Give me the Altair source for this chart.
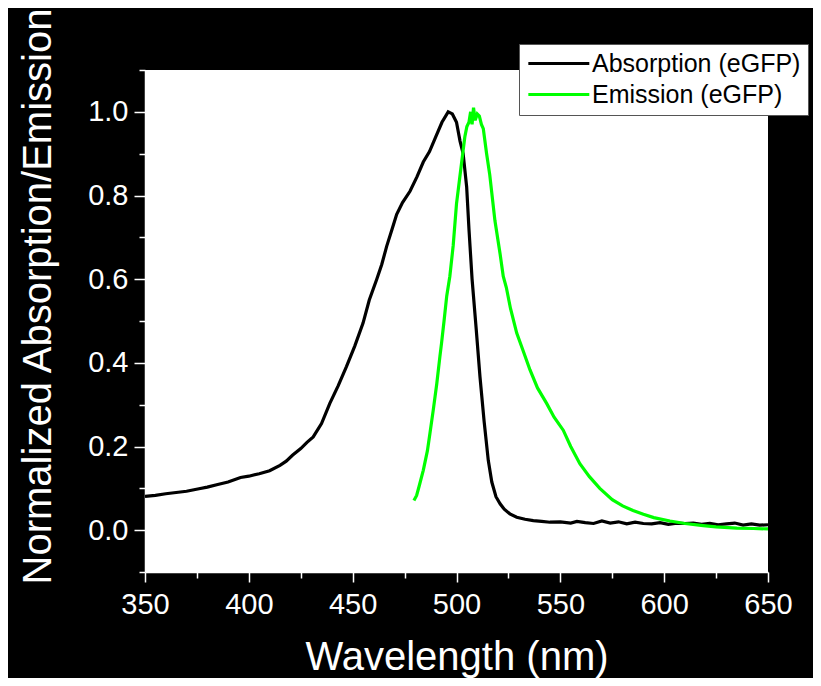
import altair as alt
import pandas as pd

# Absorption (eGFP) - wavelength (nm) and normalized value
abs_nm = [350, 355, 360, 365, 370, 376, 380, 385, 390, 396, 400, 405, 410, 415, 418,
          421, 425, 428, 431, 435, 439, 443, 447, 451, 455, 458, 461.6, 464, 466.4,
          469, 471.2, 474, 477.6, 481, 484, 487, 490, 493, 496, 498, 500, 501.7,
          503.2, 504.9, 506, 507.5, 509.5, 511.3, 513.3, 515.3, 517, 519, 521, 523,
          525.7, 529, 533, 537, 541, 545, 550, 555, 558, 562, 566, 570, 574, 578,
          582, 586, 590, 594, 598, 602, 606, 610, 614, 618, 622, 626, 630, 634, 638,
          642, 646, 650]
abs_val = [0.081, 0.083, 0.087, 0.090, 0.093, 0.099, 0.103, 0.109, 0.115, 0.126, 0.129,
           0.135, 0.142, 0.155, 0.165, 0.179, 0.195, 0.210, 0.223, 0.255, 0.303, 0.345,
           0.391, 0.440, 0.495, 0.550, 0.600, 0.635, 0.679, 0.720, 0.755, 0.783, 0.810,
           0.845, 0.880, 0.905, 0.940, 0.975, 1.000, 0.995, 0.975, 0.930, 0.900, 0.820,
           0.720, 0.600, 0.480, 0.367, 0.260, 0.167, 0.115, 0.080, 0.063, 0.050, 0.039,
           0.031, 0.026, 0.023, 0.021, 0.019, 0.020, 0.017, 0.021, 0.018, 0.016, 0.022,
           0.017, 0.020, 0.015, 0.019, 0.016, 0.015, 0.018, 0.014, 0.017, 0.016, 0.017,
           0.014, 0.016, 0.013, 0.015, 0.017, 0.012, 0.015, 0.012, 0.013]

# Emission (eGFP)
em_nm = [479.5, 480.8, 482, 484, 486, 487.2, 488.8, 490.5, 492, 492.8, 494, 495.3, 496.8,
         498.4, 500, 501.5, 503, 504, 505, 506, 506.8, 507.5, 508.2, 509, 510, 511, 512,
         512.9, 514.5, 516, 518.5, 521, 522.5, 524, 526, 529, 532, 535.4, 539, 543.4,
         547, 551.4, 555, 559.4, 564, 569, 575, 580, 585, 590, 595, 602.8, 610, 618.8,
         625, 635, 643, 650]
em_val = [0.071, 0.083, 0.105, 0.143, 0.190, 0.231, 0.287, 0.350, 0.415, 0.447, 0.500,
          0.560, 0.607, 0.680, 0.780, 0.840, 0.900, 0.940, 0.965, 0.975, 1.000, 0.970,
          1.010, 0.980, 0.995, 0.990, 0.970, 0.960, 0.900, 0.850, 0.740, 0.660, 0.607,
          0.580, 0.530, 0.471, 0.430, 0.383, 0.340, 0.303, 0.270, 0.239, 0.200, 0.159,
          0.128, 0.100, 0.073, 0.058, 0.047, 0.038, 0.030, 0.022, 0.016, 0.011, 0.008,
          0.005, 0.004, 0.003]

series_names = ["Absorption (eGFP)", "Emission (eGFP)"]
series_colors = ["#000000", "#00ff00"]
x_ticks = [350, 375, 400, 425, 450, 475, 500, 525, 550, 575, 600, 625, 650]
y_ticks = [-0.1, 0.0, 0.1, 0.2, 0.3, 0.4, 0.5, 0.6, 0.7, 0.8, 0.9, 1.0, 1.1]

df = pd.concat([
    pd.DataFrame({"nm": abs_nm, "val": abs_val, "series": series_names[0]}),
    pd.DataFrame({"nm": em_nm, "val": em_val, "series": series_names[1]}),
])

FONT = "Liberation Sans"

x_axis = alt.Axis(
    values=x_ticks,
    title="Wavelength (nm)",
    labelExpr="datum.value % 50 == 0 ? datum.label : ''",
    tickSize={"condition": {"test": "datum.value % 50 == 0", "value": 10}, "value": 6},
    grid=False,
    domainColor="white", domainWidth=1.5,
    tickColor="white", tickWidth=1.5,
    labelColor="white", labelFont=FONT, labelFontSize=29, labelPadding=8,
    labelFontWeight="normal", labelFlush=False, labelOverlap=False,
    titleColor="white", titleFont=FONT, titleFontSize=40, titleFontWeight="normal",
    titleY=97, titleBaseline="alphabetic",
)
y_axis = alt.Axis(
    values=y_ticks,
    title="Normalized Absorption/Emission",
    format=".1f",
    labelExpr="round(datum.value * 10) % 2 == 0 ? datum.label : ''",
    tickSize={"condition": {"test": "round(datum.value * 10) % 2 == 0", "value": 11}, "value": 6},
    grid=False,
    domainColor="white", domainWidth=1.5,
    tickColor="white", tickWidth=1.5,
    labelColor="white", labelFont=FONT, labelFontSize=29, labelPadding=6,
    labelFontWeight="normal", labelFlush=False, labelOverlap=False,
    titleColor="white", titleFont=FONT, titleFontSize=40, titleFontWeight="normal",
    titleX=-95, titleY=226, titleAngle=270, titleAlign="center", titleBaseline="alphabetic",
)

legend = alt.Legend(
    title=None, orient="none", legendX=374, legendY=-26,
    fillColor="white", strokeColor="#555555", padding=7,
    symbolType="M-1,0H5", symbolStrokeWidth=3, symbolSize=413,
    labelFont=FONT, labelFontSize=25, labelColor="black", labelOffset=41,
    labelLimit=400, rowPadding=5,
)

chart = alt.Chart(df).mark_line(strokeWidth=3.2, clip=True).encode(
    x=alt.X("nm:Q", scale=alt.Scale(domain=[350, 650], nice=False, zero=False), axis=x_axis),
    y=alt.Y("val:Q", scale=alt.Scale(domain=[-0.1, 1.1], nice=False, zero=False), axis=y_axis),
    color=alt.Color("series:N", scale=alt.Scale(domain=series_names, range=series_colors), legend=legend),
).properties(
    width=623, height=502,
    autosize=alt.AutoSizeParams(type="none"),
    padding={"left": 137, "top": 62, "right": 45, "bottom": 106},
    background="black",
).configure_view(fill="white", stroke=None)

chart.save("out.html", embed_options={"renderer": "svg", "actions": False})
